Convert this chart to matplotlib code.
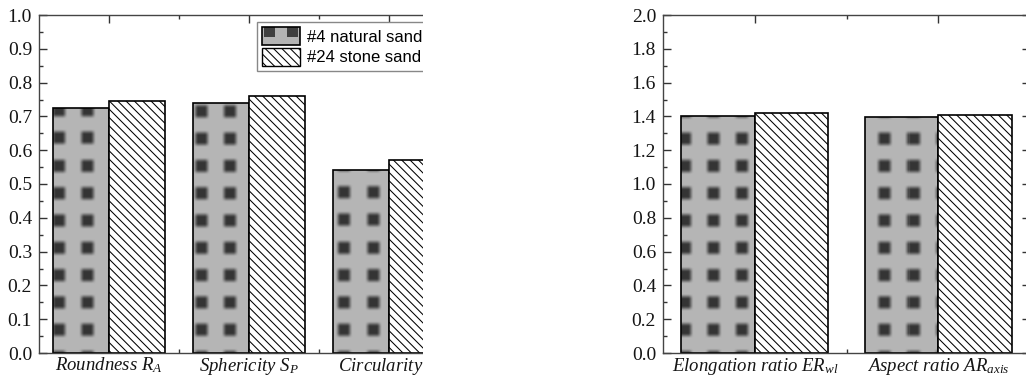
import numpy as np
import matplotlib
matplotlib.use('Agg')
import matplotlib.pyplot as plt
from matplotlib.patches import Rectangle, Patch
from matplotlib.legend_handler import HandlerBase
from matplotlib.ticker import MultipleLocator, FormatStrFormatter

# data
left_cats = ['Roundness $R_A$', 'Sphericity $S_P$', 'Circularity $C$']
left_natural = [0.726, 0.739, 0.542]
left_stone = [0.747, 0.761, 0.571]

right_cats = ['Elongation ratio $ER_{wl}$', 'Aspect ratio $AR_{axis}$']
right_natural = [1.402, 1.396]
right_stone = [1.423, 1.411]

series_names = ['#4 natural sand', '#24 stone sand']

plt.rcParams['font.family'] = ['Liberation Serif', 'DejaVu Serif']
plt.rcParams['mathtext.fontset'] = 'custom'
plt.rcParams['mathtext.it'] = 'Liberation Serif:italic'
plt.rcParams['mathtext.rm'] = 'Liberation Serif'
plt.rcParams['hatch.linewidth'] = 0.75
plt.rcParams['hatch.color'] = '#3a3a3a'

W, H = 1026, 383
fig = plt.figure(figsize=(W / 100, H / 100), dpi=100)

BG = 0.71
HATCH = '\\\\\\\\'


def texture(w, h, x0, y0, px=28.5, py=27.3, half=6.0):
    # gray background with blurred dark squares, in screen pixels
    xs = np.arange(w) + 0.5
    ys = np.arange(h) + 0.5
    dx = (xs - x0 + px / 2) % px - px / 2
    dy = (ys - y0 + py / 2) % py - py / 2
    fx = np.clip((half + 3 - np.abs(dx)) / 6, 0, 1)
    fy = np.clip((half + 3 - np.abs(dy)) / 6, 0, 1)
    fx = fx * fx * (3 - 2 * fx)
    fy = fy * fy * (3 - 2 * fy)
    return BG - 0.5 * np.outer(fy, fx)


def draw_panel(ax, cats, natural, stone, ymax, ystep, wpx, x0):
    x = np.arange(1, len(cats) + 1)
    xlim = (0.5, len(cats) + 0.5)
    bars = ax.bar(x - 0.2, natural, 0.4, facecolor=str(BG), edgecolor='none', zorder=1)
    tex = texture(wpx, 338, x0, -4)
    for b in bars:
        im = ax.imshow(tex, extent=(xlim[0], xlim[1], 0, ymax), origin='lower',
                       aspect='auto', cmap='gray', vmin=0, vmax=1,
                       interpolation='nearest', zorder=1.1)
        im.set_clip_path(b)
    ax.bar(x - 0.2, natural, 0.4, fill=False, edgecolor='black', lw=1.2, zorder=1.2)
    ax.bar(x + 0.2, stone, 0.4, facecolor='white', edgecolor='black', lw=1.2,
           hatch=HATCH, zorder=1.2)

    ax.set_xlim(*xlim)
    ax.set_ylim(0, ymax)
    ax.set_axisbelow(True)
    ax.set_xticks(x)
    ax.set_xticklabels(cats, fontstyle='italic', fontsize=13.5)
    ax.set_xticks(x[:-1] + 0.5, minor=True)
    ax.yaxis.set_major_locator(MultipleLocator(ystep))
    ax.yaxis.set_minor_locator(MultipleLocator(ystep / 2))
    ax.yaxis.set_major_formatter(FormatStrFormatter('%.1f'))
    ax.tick_params(which='both', direction='in', top=True, right=True,
                   color='#333333', labelcolor='#151515', width=1)
    ax.tick_params(which='major', length=6)
    ax.tick_params(which='minor', length=3)
    ax.tick_params(axis='y', labelsize=14, pad=5)
    ax.tick_params(axis='x', pad=2)
    for s in ax.spines.values():
        s.set_color('#444444')
        s.set_linewidth(1.0)


ax1 = fig.add_axes([39 / W, 30 / H, 420 / W, 338 / H])
draw_panel(ax1, left_cats, left_natural, left_stone, 1.0, 0.1, 420, 20)

ax2 = fig.add_axes([663 / W, 30 / H, 367 / W, 338 / H])
draw_panel(ax2, right_cats, right_natural, right_stone, 2.0, 0.2, 367, 22)


class NaturalHandler(HandlerBase):
    def create_artists(self, legend, orig_handle, xdescent, ydescent,
                       width, height, fontsize, trans):
        x0, y0 = -xdescent, -ydescent
        arts = [Rectangle((x0, y0), width, height, facecolor='#b4b4b4',
                          edgecolor='none', transform=trans)]
        for fx in (0.04, 0.64):
            arts.append(Rectangle((x0 + fx * width, y0 + 0.45 * height), 0.3 * width,
                                  0.55 * height, facecolor='#3f3f3f',
                                  edgecolor='none', transform=trans))
        arts.append(Rectangle((x0, y0), width, height, fill=False,
                              edgecolor='black', lw=1.2, transform=trans))
        return arts


h_nat = Patch(facecolor='#b4b4b4', edgecolor='black', label=series_names[0])
h_stone = Patch(facecolor='white', edgecolor='black', hatch=HATCH, label=series_names[1])
leg = ax1.legend(handles=[h_nat, h_stone], handler_map={h_nat: NaturalHandler()},
                 loc='upper left', bbox_to_anchor=(257 / W, 1 - 22 / H),
                 bbox_transform=fig.transFigure, borderaxespad=0,
                 prop={'family': 'Liberation Sans', 'size': 12},
                 fancybox=False, framealpha=1, edgecolor='#888888',
                 borderpad=0.3, handlelength=2.3, handleheight=1.3,
                 labelspacing=0.15, handletextpad=0.4)
leg.get_frame().set_linewidth(1.0)

# the source figure is cropped just right of the first panel
fig.patches.append(Rectangle((423 / W, 0), (615 - 423) / W, 1, transform=fig.transFigure,
                             facecolor='white', edgecolor='none', zorder=10))

fig.savefig('out.png', dpi=100)
